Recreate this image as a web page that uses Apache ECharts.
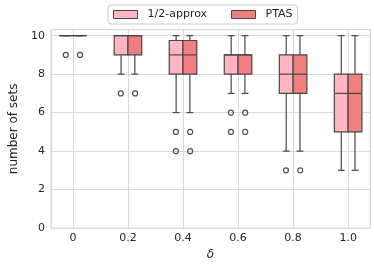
<!DOCTYPE html>
<html>
<head>
<meta charset="utf-8">
<script src="https://cdn.jsdelivr.net/npm/echarts@6/dist/echarts.min.js"></script>
<style>
  html, body { margin: 0; padding: 0; background: #ffffff; }
  #chart { width: 374px; height: 266px; }
</style>
</head>
<body>
<div id="chart"></div>
<script>
// ---- data ----
const categories = ['0', '0.2', '0.4', '0.6', '0.8', '1.0'];
const seriesNames = ['1/2-approx', 'PTAS'];
// [min(whisker), Q1, median, Q3, max(whisker)] per delta
const approxStats = [
  [10, 10, 10, 10, 10],
  [8, 9, 10, 10, 10],
  [6, 8, 9, 9.75, 10],
  [7, 8, 9, 9, 10],
  [4, 7, 8, 9, 10],
  [3, 5, 7, 8, 10]
];
const ptasStats = [
  [10, 10, 10, 10, 10],
  [8, 9, 10, 10, 10],
  [6, 8, 9, 9.75, 10],
  [7, 8, 9, 9, 10],
  [4, 7, 8, 9, 10],
  [3, 5, 7, 8, 10]
];
// [category index, value]
const approxOutliers = [[0, 9], [1, 7], [2, 5], [2, 4], [3, 6], [3, 5], [4, 3]];
const ptasOutliers = [[0, 9], [1, 7], [2, 5], [2, 4], [3, 6], [3, 5], [4, 3]];
const yTicks = [0, 2, 4, 6, 8, 10];

// ---- styles ----
const COLORS = ['#FFB6C1', '#F08080'];
const LINE = '#474747';
const TEXT = '#262626';
const GRIDC = '#d9d9d9';
const FONT = 'DejaVu Sans';
const BOX_FRAC = 0.25; // box width as fraction of category spacing

function boxRenderer(side, color) {
  return function (params, api) {
    const x = api.value(0);
    const w = api.size([BOX_FRAC, 0])[0];
    const cx = api.coord([x, 0])[0] + side * w / 2;
    const yv = function (i) { return api.coord([x, api.value(i)])[1]; };
    const yMin = yv(1), yQ1 = yv(2), yMed = yv(3), yQ3 = yv(4), yMax = yv(5);
    const ls = { stroke: LINE, lineWidth: 1.2 };
    const capHalf = w / 4;
    return {
      type: 'group',
      children: [
        { type: 'line', shape: { x1: cx, y1: yQ3, x2: cx, y2: yMax }, style: ls },
        { type: 'line', shape: { x1: cx, y1: yQ1, x2: cx, y2: yMin }, style: ls },
        { type: 'line', shape: { x1: cx - capHalf, y1: yMax, x2: cx + capHalf, y2: yMax }, style: ls },
        { type: 'line', shape: { x1: cx - capHalf, y1: yMin, x2: cx + capHalf, y2: yMin }, style: ls },
        { type: 'rect', shape: { x: cx - w / 2, y: yQ3, width: w, height: yQ1 - yQ3 },
          style: { fill: color, stroke: LINE, lineWidth: 1.2 } },
        { type: 'line', shape: { x1: cx - w / 2, y1: yMed, x2: cx + w / 2, y2: yMed }, style: ls }
      ]
    };
  };
}

function toBoxData(stats) {
  return stats.map(function (s, i) { return [i].concat(s); });
}

const chart = echarts.init(document.getElementById('chart'), null, { renderer: 'canvas' });

const option = {
  animation: false,
  backgroundColor: '#ffffff',
  textStyle: { fontFamily: FONT },
  grid: {
    left: 38.85, top: 29.7, width: 331.3, height: 199.6,
    show: true, borderColor: GRIDC, borderWidth: 1, backgroundColor: 'transparent'
  },
  legend: {
    data: seriesNames,
    left: 108, top: 5,
    icon: 'rect',
    itemWidth: 24, itemHeight: 8, itemGap: 24,
    padding: [4, 5, 4, 5],
    borderColor: '#cccccc', borderWidth: 1, borderRadius: 3,
    backgroundColor: 'rgba(255,255,255,0.8)',
    itemStyle: { borderColor: LINE, borderWidth: 1 },
    textStyle: { fontFamily: FONT, fontSize: 11, color: TEXT, padding: [0, 0, 0, 5] }
  },
  xAxis: {
    type: 'value',
    min: -0.4, max: 5.4,
    splitNumber: 6,
    name: 'δ',
    nameLocation: 'middle',
    nameGap: 15,
    nameTextStyle: { fontFamily: FONT, fontSize: 12, fontStyle: 'italic', color: TEXT },
    axisLine: { show: false },
    axisTick: { show: false },
    axisLabel: {
      fontFamily: FONT, fontSize: 11, color: TEXT, margin: 5,
      showMinLabel: false, showMaxLabel: false,
      formatter: function (v) {
        return Number.isInteger(v) && categories[v] !== undefined ? categories[v] : '';
      }
    },
    splitLine: { show: true, lineStyle: { color: GRIDC, width: 1 } }
  },
  yAxis: {
    type: 'value',
    min: 0, max: 10.31, interval: 2,
    name: 'number of sets',
    nameLocation: 'middle',
    nameGap: 23,
    nameTextStyle: { fontFamily: FONT, fontSize: 12, color: TEXT },
    axisLine: { show: false },
    axisTick: { show: false },
    axisLabel: {
      fontFamily: FONT, fontSize: 11, color: TEXT, margin: 6,
      showMaxLabel: false,
      formatter: function (v) { return yTicks.indexOf(v) >= 0 ? String(v) : ''; }
    },
    splitLine: { show: true, lineStyle: { color: GRIDC, width: 1 } }
  },
  series: [
    {
      name: seriesNames[0], type: 'custom',
      renderItem: boxRenderer(-1, COLORS[0]),
      itemStyle: { color: COLORS[0], borderColor: LINE },
      encode: { x: 0, y: [1, 2, 3, 4, 5] },
      data: toBoxData(approxStats), z: 3
    },
    {
      name: seriesNames[1], type: 'custom',
      renderItem: boxRenderer(1, COLORS[1]),
      itemStyle: { color: COLORS[1], borderColor: LINE },
      encode: { x: 0, y: [1, 2, 3, 4, 5] },
      data: toBoxData(ptasStats), z: 3
    },
    {
      name: 'outliers-approx', type: 'scatter',
      symbol: 'circle', symbolSize: 5, symbolOffset: [-7.14, 0],
      itemStyle: { color: 'rgba(255,255,255,0)', borderColor: '#262626', borderWidth: 1.2 },
      data: approxOutliers, z: 4
    },
    {
      name: 'outliers-ptas', type: 'scatter',
      symbol: 'circle', symbolSize: 5, symbolOffset: [7.14, 0],
      itemStyle: { color: 'rgba(255,255,255,0)', borderColor: '#262626', borderWidth: 1.2 },
      data: ptasOutliers, z: 4
    }
  ]
};
chart.setOption(option);
</script>
</body>
</html>
